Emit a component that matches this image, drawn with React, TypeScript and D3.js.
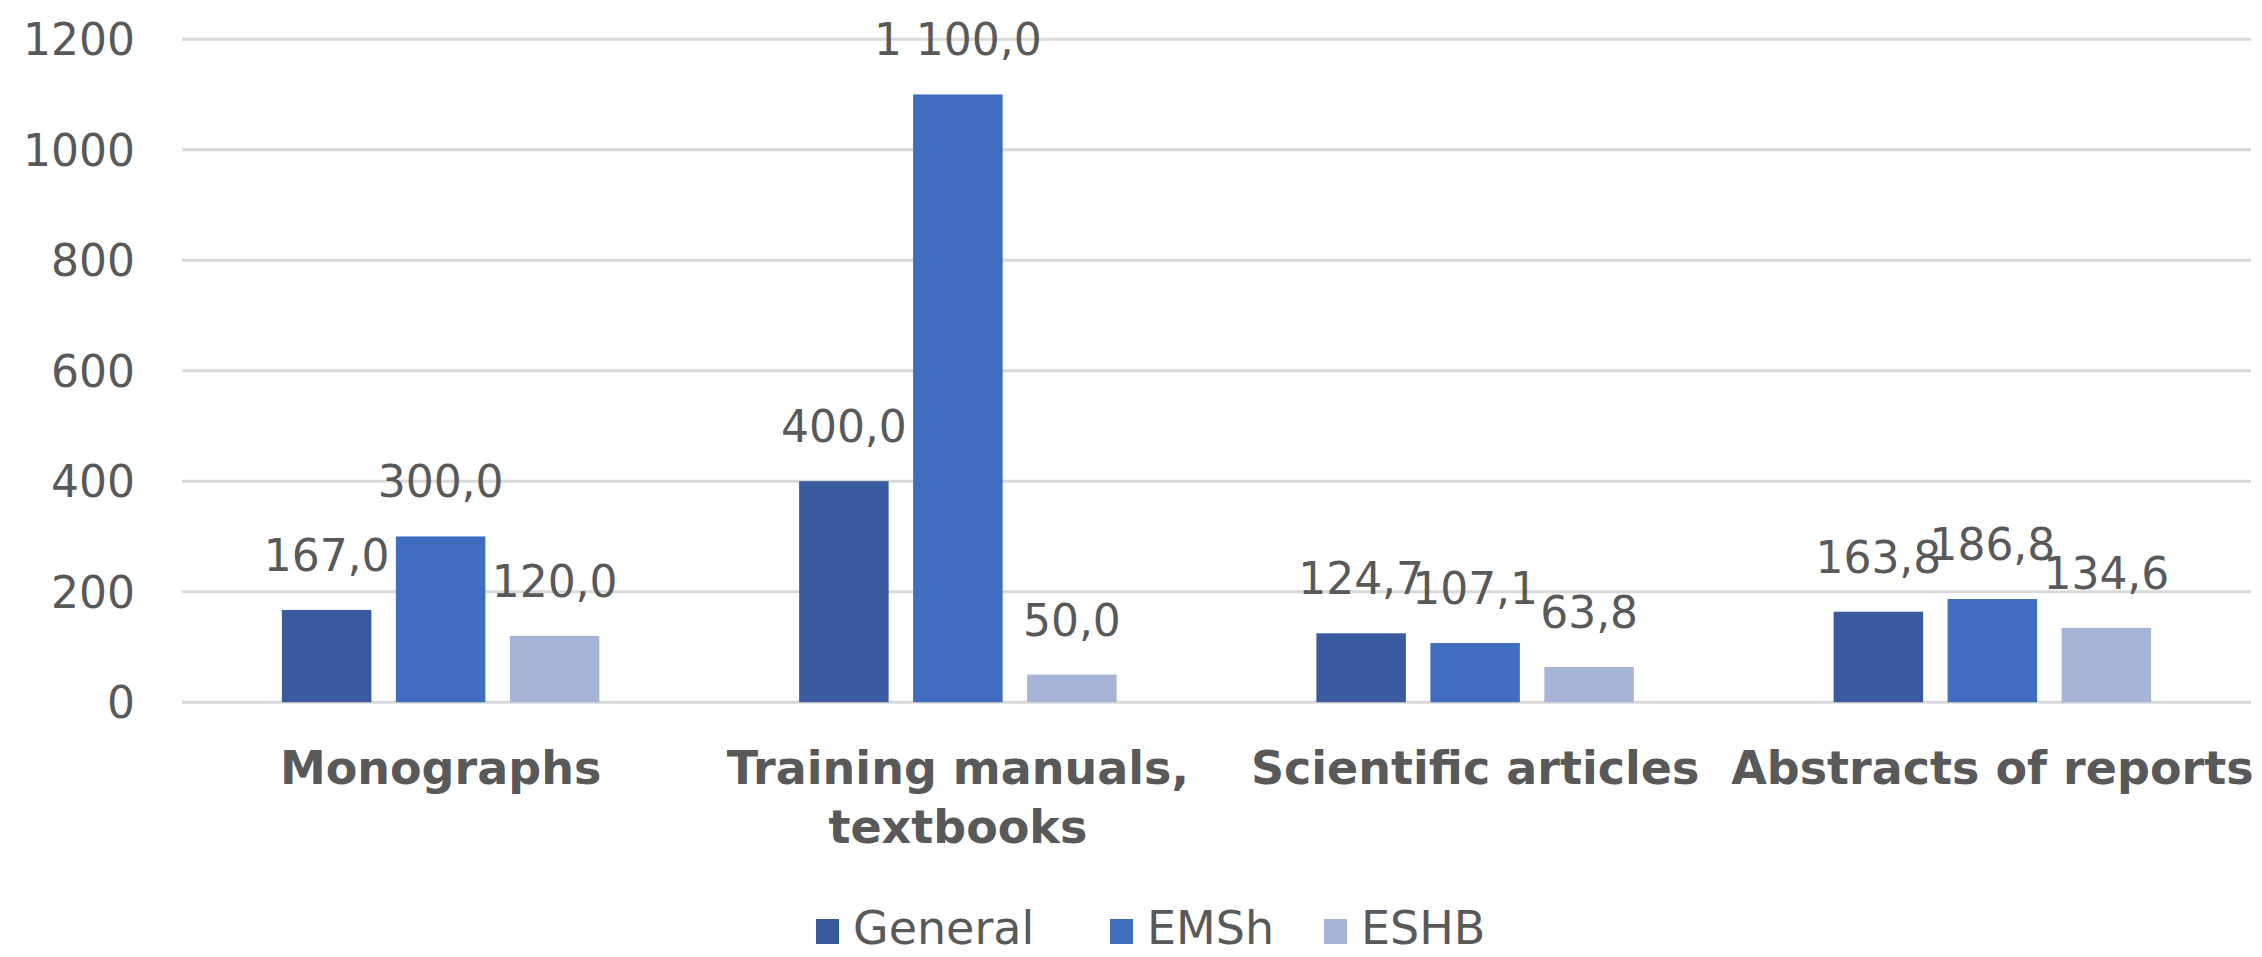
import React from "react";
import * as d3 from "d3";

const categories = [["Monographs"], ["Training manuals,", "textbooks"], ["Scientific articles"], ["Abstracts of reports"]];
const seriesNames = ["General", "EMSh", "ESHB"];
const general = [167.0, 400.0, 124.7, 163.8];
const emsh = [300.0, 1100.0, 107.1, 186.8];
const eshb = [120.0, 50.0, 63.8, 134.6];
const yTicks = [0, 200, 400, 600, 800, 1000, 1200];
const colors = ["#3A5A9F", "#416DC1", "#A6B4D7"];

const W = 2262, H = 957;
const left = 182, right = 2251, top = 39.2, bottom = 702.2;

function fmt(v: number) {
  const s = v.toFixed(1).replace(".", ",");
  const [i, d] = s.split(",");
  const ii = i.replace(/\B(?=(\d{3})+(?!\d))/g, "\u00A0");
  return ii + "," + d;
}

export default function App() {
  const series = [general, emsh, eshb];
  const x0 = d3.scaleBand<number>().domain(d3.range(categories.length)).range([left, right]).paddingInner(0).paddingOuter(0);
  const y = d3.scaleLinear().domain([0, 1200]).range([bottom, top]);
  const bw = 89.5, step = 114;
  const font = "'DejaVu Sans', sans-serif";
  const legendX = [816, 1110, 1324];
  return (
    <svg width={W} height={H} style={{ position: "absolute", left: 0, top: 0, background: "#fff" }}>
      <rect x={0} y={0} width={W} height={H} fill="#fff" />
      {yTicks.map((t) => (
        <g key={t}>
          <line x1={left} x2={right} y1={y(t)} y2={y(t)} stroke="#D9D9D9" strokeWidth={3} />
          <text x={135} y={y(t)} dy="0.36em" textAnchor="end" fontFamily={font} fontSize={44} fill="#595959">{t}</text>
        </g>
      ))}
      {categories.map((c, ci) => {
        const cx = (x0(ci) as number) + x0.bandwidth() / 2;
        return (
          <g key={ci}>
            {series.map((s, si) => {
              const bx = cx + (si - 1) * step - bw / 2;
              return (
                <g key={si}>
                  <rect x={bx} y={y(s[ci])} width={bw} height={y(0) - y(s[ci])} fill={colors[si]} />
                  <text x={bx + bw / 2} y={y(s[ci]) - 39} textAnchor="middle" fontFamily={font} fontSize={44} fill="#595959">{fmt(s[ci])}</text>
                </g>
              );
            })}
            {c.map((line, li) => (
              <text key={li} x={cx} y={784 + li * 59} textAnchor="middle" fontFamily={font} fontWeight="bold" fontSize={46} fill="#595959">{line}</text>
            ))}
          </g>
        );
      })}
      {seriesNames.map((n, i) => (
        <g key={n}>
          <rect x={legendX[i]} y={919} width={23} height={25} fill={colors[i]} />
          <text x={legendX[i] + 37} y={944} fontFamily={font} fontSize={46} fill="#595959">{n}</text>
        </g>
      ))}
    </svg>
  );
}
